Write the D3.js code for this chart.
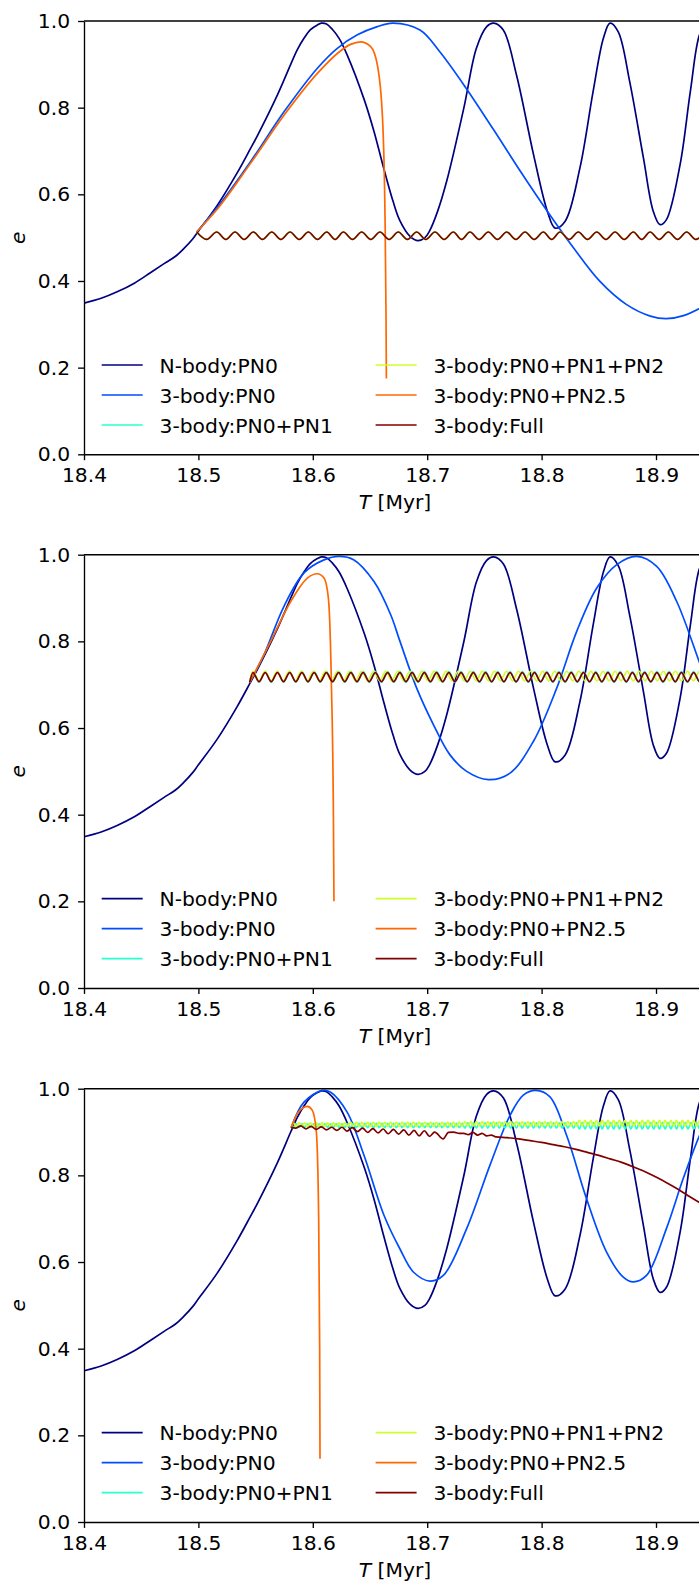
<!DOCTYPE html>
<html>
<head>
<meta charset="utf-8">
<script src="https://cdn.jsdelivr.net/npm/d3@7"></script>
<style>
  body { margin: 0; background: #fff; }
  svg { display: block; }
  text { font-family: "DejaVu Sans", sans-serif; }
</style>
</head>
<body>
<div id="chart"></div>
<script>
// legend entries, jet colours
const seriesNames = ["N-body:PN0", "3-body:PN0", "3-body:PN0+PN1", "3-body:PN0+PN1+PN2", "3-body:PN0+PN2.5", "3-body:Full"];
const seriesColors = ["#000080", "#004dff", "#29ffce", "#ceff29", "#ff6800", "#800000"];
const xTicks = [18.4, 18.5, 18.6, 18.7, 18.8, 18.9];
const yTicks = [0, 0.2, 0.4, 0.6, 0.8, 1.0];

// N-body run, same in all three panels
const nbodyT = [18.400,18.415,18.429,18.444,18.458,18.470,18.480,18.487,18.495,18.500,18.5166,18.534,18.545,18.5515,18.569,18.5807,18.5865,18.5923,18.598,18.604,18.6075,18.612,18.617,18.623,18.630,18.645,18.6535,18.662,18.670,18.676,18.685,18.692,18.698,18.702,18.709,18.717,18.732,18.743,18.752,18.758,18.7665,18.778,18.793,18.805,18.8118,18.8206,18.8335,18.845,18.854,18.8598,18.867,18.877,18.889,18.8976,18.9035,18.909,18.921,18.930,18.938,18.944];
const nbodyE = [0.349,0.360,0.375,0.395,0.419,0.440,0.457,0.474,0.497,0.515,0.575,0.650,0.703,0.735,0.829,0.900,0.934,0.960,0.980,0.991,0.995,0.993,0.981,0.960,0.922,0.818,0.745,0.660,0.585,0.540,0.503,0.493,0.500,0.515,0.560,0.630,0.799,0.937,0.987,0.995,0.979,0.876,0.691,0.561,0.522,0.538,0.661,0.837,0.960,0.995,0.975,0.860,0.684,0.561,0.530,0.541,0.668,0.837,0.968,0.995];

// panel 1
const p1Pn0T = [18.4985,18.5166,18.5457,18.575,18.604,18.6214,18.639,18.6564,18.670,18.6937,18.711,18.734,18.7578,18.781,18.805,18.828,18.851,18.874,18.895,18.909,18.924,18.944];
const p1Pn0E = [0.513,0.570,0.676,0.791,0.891,0.937,0.968,0.987,0.995,0.979,0.929,0.845,0.750,0.655,0.561,0.476,0.399,0.346,0.319,0.313,0.320,0.345];
const p1Pn25T = [18.4985,18.5166,18.5457,18.575,18.604,18.6214,18.633,18.6418,18.6506,18.6564,18.6608,18.6631,18.664,18.6643];
const p1Pn25E = [0.513,0.566,0.672,0.783,0.879,0.925,0.946,0.952,0.941,0.899,0.783,0.553,0.323,0.175];
const p1FullT = [18.4985,18.5072,18.5160,18.5240,18.5320,18.5400,18.5480,18.5560,18.5641,18.5721,
  18.5801,18.5881,18.5961,18.6041,18.6122,18.6195,18.6267,18.6347,18.6427,18.6507,
  18.6587,18.6667,18.6747,18.6827,18.6908,18.6988,18.7068,18.7148,18.7228,18.7300,
  18.7374,18.7454,18.7534,18.7614,18.7695,18.7775,18.7855,18.7935,18.8015,18.8088,
  18.8161,18.8241,18.8321,18.8401,18.8482,18.8562,18.8642,18.8722,18.8802,18.8875,
  18.8948,18.9028,18.9108,18.9188,18.9268,18.9348,18.9428];
const p1FullE = [0.513,0.496,0.513,0.496,0.513,0.496,0.513,0.496,0.513,0.496,
  0.513,0.496,0.513,0.496,0.513,0.496,0.513,0.496,0.513,0.496,
  0.513,0.496,0.513,0.496,0.513,0.496,0.513,0.496,0.513,0.496,
  0.513,0.496,0.513,0.496,0.513,0.496,0.513,0.496,0.513,0.496,
  0.513,0.496,0.513,0.496,0.513,0.496,0.513,0.496,0.513,0.496,
  0.513,0.496,0.513,0.496,0.513,0.496,0.513];

// panel 2
const p2Pn0T = [18.5448,18.5573,18.5748,18.5923,18.6098,18.6229,18.636,18.6535,18.668,18.6762,18.6908,18.7054,18.7199,18.7345,18.7535,18.7724,18.7928,18.8132,18.8307,18.8482,18.8657,18.8831,18.9006,18.9181,18.9376,18.944];
const p2Pn0E = [0.705,0.769,0.881,0.958,0.988,0.996,0.988,0.938,0.862,0.800,0.692,0.608,0.538,0.500,0.481,0.496,0.569,0.692,0.823,0.923,0.977,0.996,0.973,0.892,0.754,0.708];
const p2Pn25T = [18.5448,18.5632,18.5807,18.5952,18.604,18.6098,18.6136,18.6162,18.618,18.6185];
const p2Pn25E = [0.705,0.800,0.892,0.946,0.956,0.946,0.900,0.708,0.400,0.200];
const p2FullT = [18.5448,18.5477,18.5530,18.5584,18.5637,18.5691,18.5744,18.5798,18.5851,18.5905,
  18.5958,18.6012,18.6065,18.6119,18.6172,18.6226,18.6279,18.6333,18.6386,18.6440,
  18.6493,18.6547,18.6600,18.6654,18.6707,18.6761,18.6814,18.6868,18.6921,18.6975,
  18.7028,18.7082,18.7135,18.7189,18.7242,18.7296,18.7349,18.7403,18.7456,18.7510,
  18.7563,18.7617,18.7670,18.7724,18.7777,18.7831,18.7884,18.7938,18.7991,18.8045,
  18.8098,18.8152,18.8205,18.8259,18.8312,18.8366,18.8419,18.8473,18.8526,18.8580,
  18.8633,18.8687,18.8740,18.8794,18.8847,18.8901,18.8954,18.9008,18.9061,18.9115,
  18.9168,18.9222,18.9275,18.9329,18.9382,18.9436];
const p2FullE = [0.705,
  0.728,0.707,0.728,0.707,0.728,0.707,0.728,0.707,0.728,0.707,
  0.728,0.707,0.728,0.707,0.728,0.707,0.728,0.707,0.728,0.707,
  0.728,0.707,0.728,0.707,0.728,0.707,0.728,0.707,0.728,0.707,
  0.728,0.707,0.728,0.707,0.728,0.707,0.728,0.707,0.728,0.707,
  0.728,0.707,0.728,0.707,0.728,0.707,0.728,0.707,0.728,0.707,
  0.728,0.707,0.728,0.707,0.728,0.707,0.728,0.707,0.728,0.707,
  0.728,0.707,0.728,0.707,0.728,0.707,0.728,0.707,0.728,0.707,
  0.728,0.707,0.728,0.707,
  0.728];
const p2Pn1E = [0.705,
  0.730,0.706,0.730,0.706,0.730,0.706,0.730,0.706,0.730,0.706,
  0.730,0.706,0.730,0.706,0.730,0.706,0.730,0.706,0.730,0.706,
  0.730,0.706,0.730,0.706,0.730,0.706,0.730,0.706,0.730,0.706,
  0.730,0.706,0.730,0.706,0.730,0.706,0.730,0.706,0.730,0.706,
  0.730,0.706,0.730,0.706,0.730,0.706,0.730,0.706,0.730,0.706,
  0.730,0.706,0.730,0.706,0.730,0.706,0.730,0.706,0.730,0.706,
  0.730,0.706,0.730,0.706,0.730,0.706,0.730,0.706,0.730,0.706,
  0.730,0.706,0.730,0.706,
  0.730];
const p2Pn12T = [18.5448,18.5477,18.5530,18.5583,18.5636,18.5688,18.5741,18.5794,18.5847,18.5899,
  18.5952,18.6005,18.6058,18.6110,18.6163,18.6216,18.6269,18.6321,18.6374,18.6427,
  18.6480,18.6532,18.6585,18.6638,18.6691,18.6743,18.6796,18.6849,18.6902,18.6954,
  18.7007,18.7060,18.7113,18.7165,18.7218,18.7271,18.7324,18.7376,18.7429,18.7482,
  18.7535,18.7587,18.7640,18.7693,18.7746,18.7798,18.7851,18.7904,18.7957,18.8009,
  18.8062,18.8115,18.8168,18.8220,18.8273,18.8326,18.8379,18.8431,18.8484,18.8537,
  18.8590,18.8642,18.8695,18.8748,18.8801,18.8853,18.8906,18.8959,18.9012,18.9064,
  18.9117,18.9170,18.9223,18.9275,18.9328,18.9381,18.9434,18.9486];
const p2Pn12E = [0.705,
  0.731,0.709,0.731,0.709,0.731,0.709,0.731,0.709,0.731,0.709,
  0.731,0.709,0.731,0.709,0.731,0.709,0.731,0.709,0.731,0.709,
  0.731,0.709,0.731,0.709,0.731,0.709,0.731,0.709,0.731,0.709,
  0.731,0.709,0.731,0.709,0.731,0.709,0.731,0.709,0.731,0.709,
  0.731,0.709,0.731,0.709,0.731,0.709,0.731,0.709,0.731,0.709,
  0.731,0.709,0.731,0.709,0.731,0.709,0.731,0.709,0.731,0.709,
  0.731,0.709,0.731,0.709,0.731,0.709,0.731,0.709,0.731,0.709,
  0.731,0.709,0.731,0.709,0.731,0.709,
  0.731];

// panel 3
const p3Pn0T = [18.5810,18.5923,18.6083,18.6156,18.630,18.6448,18.6622,18.6762,18.6879,18.7024,18.7141,18.7345,18.7548,18.7723,18.784,18.795,18.8073,18.8219,18.8393,18.8568,18.8714,18.880,18.8917,18.9091,18.9237,18.9374,18.944];
const p3Pn0E = [0.910,0.969,0.996,0.992,0.946,0.846,0.708,0.630,0.577,0.556,0.569,0.677,0.823,0.938,0.985,0.996,0.981,0.892,0.746,0.623,0.565,0.554,0.569,0.677,0.792,0.888,0.925];
const p3Pn25T = [18.5810,18.5865,18.5952,18.5996,18.6031,18.6051,18.606,18.6063];
const p3Pn25E = [0.910,0.942,0.959,0.950,0.900,0.708,0.400,0.146];
const p3FullT = [18.5810,18.5850,18.5895,18.5940,18.5985,18.6030,18.6075,18.6120,18.6165,18.6210,
  18.6255,18.6300,18.6345,18.6390,18.6435,18.6480,18.6525,18.6570,18.6615,18.6660,
  18.6705,18.6750,18.6795,18.6840,18.6885,18.6930,18.6975,18.7020,18.7065,18.7140,
  18.7185,18.7230,18.7280,18.7320,18.7360,18.7400,18.7440,18.7480,18.7520,18.7560,
  18.7600,18.7700,18.7800,18.7900,18.8000,18.8100,18.8200,18.8300,18.8400,18.8500,
  18.8600,18.8700,18.8800,18.8900,18.9000,18.9100,18.9200,18.9300,18.9440];
const p3FullE = [0.910,0.909,0.914,0.907,0.913,0.906,0.912,0.905,0.911,0.904,
  0.911,0.902,0.910,0.901,0.909,0.899,0.908,0.898,0.907,0.896,
  0.906,0.895,0.905,0.893,0.904,0.891,0.903,0.890,0.900,0.884,
  0.899,0.900,0.897,0.897,0.894,0.899,0.893,0.897,0.891,0.893,
  0.889,0.887,0.884,0.880,0.876,0.871,0.866,0.860,0.853,0.846,
  0.838,0.830,0.820,0.809,0.796,0.782,0.767,0.750,0.728];
const p3GridT = [18.5810,18.5830,18.5855,18.5880,18.5905,18.5930,18.5955,18.5980,18.6005,18.6030,
  18.6055,18.6080,18.6105,18.6130,18.6155,18.6180,18.6205,18.6230,18.6255,18.6280,
  18.6305,18.6330,18.6355,18.6380,18.6405,18.6430,18.6455,18.6480,18.6505,18.6530,
  18.6555,18.6580,18.6605,18.6630,18.6655,18.6680,18.6705,18.6730,18.6755,18.6780,
  18.6805,18.6830,18.6855,18.6880,18.6905,18.6930,18.6955,18.6980,18.7005,18.7030,
  18.7055,18.7080,18.7105,18.7130,18.7155,18.7180,18.7205,18.7230,18.7255,18.7280,
  18.7305,18.7330,18.7355,18.7380,18.7405,18.7430,18.7455,18.7480,18.7505,18.7530,
  18.7555,18.7580,18.7605,18.7630,18.7655,18.7680,18.7705,18.7730,18.7755,18.7780,
  18.7805,18.7830,18.7855,18.7880,18.7905,18.7930,18.7955,18.7980,18.8005,18.8030,
  18.8055,18.8080,18.8105,18.8130,18.8155,18.8180,18.8205,18.8230,18.8255,18.8280,
  18.8305,18.8330,18.8355,18.8380,18.8405,18.8430,18.8455,18.8480,18.8505,18.8530,
  18.8555,18.8580,18.8605,18.8630,18.8655,18.8680,18.8705,18.8730,18.8755,18.8780,
  18.8805,18.8830,18.8855,18.8880,18.8905,18.8930,18.8955,18.8980,18.9005,18.9030,
  18.9055,18.9080,18.9105,18.9130,18.9155,18.9180,18.9205,18.9230,18.9255,18.9280,
  18.9305,18.9330,18.9355,18.9380,18.9405,18.9430,18.9455];
const p3Pn1E = [0.910,0.911,0.919,0.911,0.919,0.911,0.919,0.911,0.919,0.911,
  0.919,0.911,0.919,0.911,0.919,0.911,0.919,0.911,0.919,0.911,
  0.919,0.910,0.920,0.910,0.920,0.910,0.920,0.910,0.920,0.910,
  0.920,0.910,0.920,0.910,0.920,0.910,0.920,0.910,0.920,0.910,
  0.920,0.910,0.920,0.910,0.920,0.910,0.920,0.910,0.920,0.910,
  0.920,0.910,0.920,0.910,0.920,0.910,0.920,0.910,0.920,0.910,
  0.920,0.909,0.921,0.909,0.921,0.909,0.921,0.909,0.921,0.909,
  0.921,0.909,0.921,0.909,0.921,0.909,0.921,0.909,0.921,0.909,
  0.921,0.909,0.921,0.909,0.921,0.909,0.921,0.909,0.921,0.909,
  0.921,0.909,0.921,0.909,0.921,0.909,0.921,0.909,0.921,0.909,
  0.921,0.907,0.922,0.907,0.922,0.907,0.922,0.907,0.922,0.907,
  0.922,0.907,0.922,0.907,0.922,0.907,0.922,0.907,0.922,0.907,
  0.922,0.907,0.922,0.907,0.922,0.907,0.922,0.907,0.922,0.907,
  0.922,0.907,0.922,0.907,0.922,0.907,0.922,0.907,0.922,0.907,
  0.922,0.907,0.922,0.907,0.922,0.907,0.922];
const p3Pn12E = [0.910,0.921,0.913,0.921,0.913,0.921,0.913,0.921,0.913,0.921,
  0.913,0.921,0.913,0.921,0.913,0.921,0.913,0.921,0.913,0.921,
  0.913,0.923,0.913,0.923,0.913,0.923,0.913,0.923,0.913,0.923,
  0.913,0.923,0.913,0.923,0.913,0.923,0.913,0.923,0.913,0.923,
  0.913,0.923,0.913,0.923,0.913,0.923,0.913,0.923,0.913,0.923,
  0.913,0.923,0.913,0.923,0.913,0.923,0.913,0.923,0.913,0.923,
  0.913,0.924,0.914,0.924,0.914,0.924,0.914,0.924,0.914,0.924,
  0.914,0.924,0.914,0.924,0.914,0.924,0.914,0.924,0.914,0.924,
  0.914,0.924,0.914,0.924,0.914,0.924,0.914,0.924,0.914,0.924,
  0.914,0.924,0.914,0.924,0.914,0.924,0.914,0.924,0.914,0.924,
  0.914,0.927,0.914,0.927,0.914,0.927,0.914,0.927,0.914,0.927,
  0.914,0.927,0.914,0.927,0.914,0.927,0.914,0.927,0.914,0.927,
  0.914,0.927,0.914,0.927,0.914,0.927,0.914,0.927,0.914,0.927,
  0.914,0.927,0.914,0.927,0.914,0.927,0.914,0.927,0.914,0.927,
  0.914,0.927,0.914,0.927,0.914,0.927,0.914];

// which arrays go in which panel, in matplotlib plotting order
const panels = [
  [[nbodyT, nbodyE], [p1Pn0T, p1Pn0E], [p1FullT, p1FullE], [p1FullT, p1FullE], [p1Pn25T, p1Pn25E], [p1FullT, p1FullE]],
  [[nbodyT, nbodyE], [p2Pn0T, p2Pn0E], [p2FullT, p2Pn1E], [p2Pn12T, p2Pn12E], [p2Pn25T, p2Pn25E], [p2FullT, p2FullE]],
  [[nbodyT, nbodyE], [p3Pn0T, p3Pn0E], [p3GridT, p3Pn1E], [p3GridT, p3Pn12E], [p3Pn25T, p3Pn25E], [p3FullT, p3FullE]]
];

const svgWidth = 699;
const svgHeight = 1582;
const left = 84, right = 706;
const panelTops = [21, 554.7, 1088.7];
const panelHeight = 433.3;
const fontSize = 20.3;

const svg = d3.select("#chart")
  .append("svg")
  .attr("width", svgWidth)
  .attr("height", svgHeight);

const x = d3.scaleLinear().domain([18.4, 18.9437]).range([left, right]);

panels.forEach((series, pi) => {
  const top = panelTops[pi];
  const bottom = top + panelHeight;
  const y = d3.scaleLinear().domain([0, 1]).range([bottom, top]);

  svg.append("clipPath")
    .attr("id", "clip" + pi)
    .append("rect")
    .attr("x", left)
    .attr("y", top)
    .attr("width", right - left)
    .attr("height", panelHeight);

  // smooth spline for the slow curves, monotone for wiggles and the plunge
  const smooth = d3.line()
    .x((d) => x(d[0]))
    .y((d) => y(d[1]))
    .curve(d3.curveCatmullRom.alpha(0.5));
  const mono = d3.line()
    .x((d) => x(d[0]))
    .y((d) => y(d[1]))
    .curve(d3.curveMonotoneX);

  const lines = svg.append("g").attr("clip-path", `url(#clip${pi})`);
  series.forEach(([t, e], k) => {
    lines.append("path")
      .datum(d3.zip(t, e))
      .attr("fill", "none")
      .attr("stroke", seriesColors[k])
      .attr("stroke-width", 1.7)
      .attr("stroke-linejoin", "round")
      .attr("d", k < 2 ? smooth : mono);
  });

  // spines + ticks
  const xAxis = svg.append("g")
    .attr("transform", `translate(0,${bottom})`)
    .call(d3.axisBottom(x).tickValues(xTicks).tickFormat(d3.format(".1f"))
      .tickSize(5.9).tickSizeOuter(0).tickPadding(7.7));
  const yAxis = svg.append("g")
    .attr("transform", `translate(${left},0)`)
    .call(d3.axisLeft(y).tickValues(yTicks).tickFormat(d3.format(".1f"))
      .tickSize(5.9).tickSizeOuter(0).tickPadding(8));
  [xAxis, yAxis].forEach((a) => {
    a.attr("font-size", fontSize).attr("font-family", "DejaVu Sans").attr("color", "#000");
    a.selectAll("path, line").attr("stroke-width", 1.35);
  });

  svg.append("line")
    .attr("x1", left).attr("x2", right)
    .attr("y1", top).attr("y2", top)
    .attr("stroke", "#000")
    .attr("stroke-width", 1.35);

  // axis labels
  svg.append("text")
    .attr("transform", `translate(25,${(top + bottom) / 2}) rotate(-90)`)
    .attr("text-anchor", "middle")
    .attr("font-size", fontSize)
    .attr("font-style", "italic")
    .text("e");

  const xl = svg.append("text")
    .attr("x", (left + right) / 2)
    .attr("y", bottom + 55)
    .attr("text-anchor", "middle")
    .attr("font-size", fontSize);
  xl.append("tspan").attr("font-style", "italic").text("T");
  xl.append("tspan").text(" [Myr]");

  // legend, two columns, no frame
  const legend = svg.append("g");
  seriesNames.forEach((name, k) => {
    const col = Math.floor(k / 3);
    const row = k % 3;
    const hx = col === 0 ? 101.7 : 375.6;
    const ly = top + 344 + row * 30;
    legend.append("line")
      .attr("x1", hx).attr("x2", hx + 41)
      .attr("y1", ly).attr("y2", ly)
      .attr("stroke", seriesColors[k])
      .attr("stroke-width", 1.7);
    legend.append("text")
      .attr("x", hx + 57.8)
      .attr("y", ly + 7.5)
      .attr("font-size", fontSize)
      .text(name);
  });
});
</script>
</body>
</html>
